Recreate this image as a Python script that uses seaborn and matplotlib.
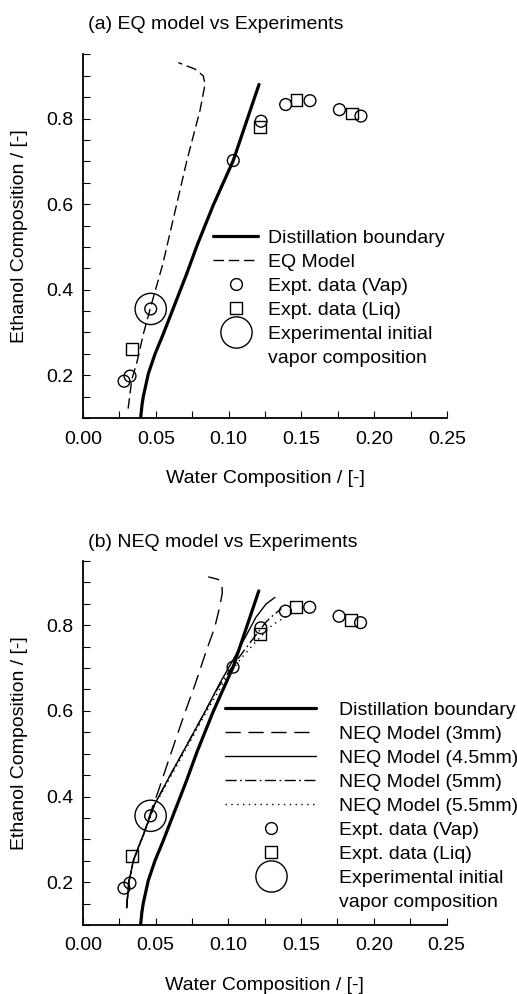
import numpy as np
import pandas as pd
import matplotlib
matplotlib.use("Agg")
import matplotlib.pyplot as plt
import seaborn as sns
from matplotlib.lines import Line2D
from matplotlib.ticker import MultipleLocator, FixedLocator

# ---------------- data ----------------
boundary_x = [0.0396, 0.0405, 0.0414, 0.0449, 0.0495, 0.0552, 0.0632, 0.0712, 0.0785, 0.0895, 0.1032, 0.1209]
boundary_y = [0.100, 0.130, 0.150, 0.204, 0.250, 0.297, 0.367, 0.437, 0.505, 0.598, 0.702, 0.880]

eq_x = [0.0310, 0.0335, 0.0370, 0.0415, 0.0465, 0.0548, 0.0630, 0.0712, 0.0804, 0.0838, 0.0826, 0.0769, 0.0700, 0.0655]
eq_y = [0.122, 0.190, 0.230, 0.297, 0.360, 0.460, 0.580, 0.700, 0.820, 0.880, 0.900, 0.916, 0.925, 0.931]

neq3_x = [0.0300, 0.0315, 0.0350, 0.0415, 0.0470, 0.0517, 0.0609, 0.0700, 0.0769, 0.0850, 0.0907, 0.0940, 0.0958, 0.0955, 0.0930, 0.0861]
neq3_y = [0.140, 0.200, 0.253, 0.310, 0.368, 0.412, 0.505, 0.595, 0.660, 0.742, 0.796, 0.843, 0.875, 0.895, 0.907, 0.913]

neq45_x = [0.0300, 0.0315, 0.0348, 0.0414, 0.0490, 0.0600, 0.0730, 0.0850, 0.0940, 0.1032, 0.1124, 0.1190, 0.1260, 0.1320]
neq45_y = [0.140, 0.200, 0.253, 0.310, 0.380, 0.450, 0.530, 0.605, 0.664, 0.719, 0.777, 0.819, 0.850, 0.865]

neq5_x = [0.0300, 0.0315, 0.0348, 0.0414, 0.0490, 0.0600, 0.0730, 0.0850, 0.0930, 0.1020, 0.1110, 0.1180, 0.1260, 0.1307, 0.1365]
neq5_y = [0.140, 0.200, 0.253, 0.310, 0.380, 0.450, 0.530, 0.605, 0.655, 0.700, 0.742, 0.773, 0.808, 0.823, 0.839]

neq55_x = [0.0300, 0.0316, 0.0350, 0.0416, 0.0492, 0.0605, 0.0735, 0.0860, 0.0970, 0.1080, 0.1190, 0.1300, 0.1370, 0.1433]
neq55_y = [0.140, 0.200, 0.253, 0.310, 0.378, 0.448, 0.527, 0.605, 0.668, 0.720, 0.762, 0.800, 0.815, 0.827]

vap_x = [0.0282, 0.0323, 0.0465, 0.1032, 0.1223, 0.1392, 0.1559, 0.1761, 0.1909]
vap_y = [0.186, 0.198, 0.355, 0.702, 0.794, 0.833, 0.842, 0.821, 0.806]

liq_x = [0.0339, 0.1216, 0.1467, 0.1845]
liq_y = [0.262, 0.780, 0.843, 0.812]

init_x = [0.0465]
init_y = [0.355]

x_ticks = [0.00, 0.05, 0.10, 0.15, 0.20, 0.25]
y_ticks = [0.2, 0.4, 0.6, 0.8]

# ---------------- style ----------------
sns.set_theme(style="ticks")
plt.rcParams["font.family"] = ["Liberation Sans", "DejaVu Sans"]
plt.rcParams["lines.scale_dashes"] = False
plt.rcParams["text.color"] = "black"
plt.rcParams["axes.labelcolor"] = "black"
plt.rcParams["xtick.color"] = "black"
plt.rcParams["ytick.color"] = "black"
FS = 14

W, H = 517, 994
fig = plt.figure(figsize=(W / 100, H / 100), dpi=100)
fig.patch.set_facecolor("white")


def ax_rect(left, top, right, bottom):
    return [left / W, 1 - bottom / H, (right - left) / W, (bottom - top) / H]


ax1 = fig.add_axes(ax_rect(83, 54.5, 447, 418))
ax2 = fig.add_axes(ax_rect(83, 561, 446.5, 925))

LW_THICK = 2.3
LW_THIN = 1.0
MS = 8.5
MS_BIG = 22.5
MEW = 1.0

DASH_EQ = (0, (7.5, 3.5))
DASH_3 = (0, (11, 5.5))
DASH_DOT = (0, (8, 2.5, 1.2, 2.5))
DOTTED = (0, (1.0, 3.2))


def curve(ax, x, y, lw, ls):
    df = pd.DataFrame({"x": x, "y": y})
    sns.lineplot(data=df, x="x", y="y", ax=ax, sort=False, estimator=None,
                 color="black", linewidth=lw, linestyle=ls)


def points(ax, x, y, marker, ms):
    df = pd.DataFrame({"x": x, "y": y})
    sns.scatterplot(data=df, x="x", y="y", ax=ax, marker=marker, s=ms ** 2,
                    facecolors="none", edgecolors="black", linewidth=MEW, zorder=5)
    coll = ax.collections[-1]
    coll.set_facecolor("none")
    coll.set_edgecolor("black")
    coll.set_linewidth(MEW)


def style_axes(ax):
    ax.set_xlim(0, 0.25)
    ax.set_ylim(0.1, 0.95)
    sns.despine(ax=ax)
    for s in ["left", "bottom"]:
        ax.spines[s].set_linewidth(1.3)
        ax.spines[s].set_color("black")
    ax.xaxis.set_major_locator(FixedLocator(x_ticks))
    ax.xaxis.set_minor_locator(MultipleLocator(0.025))
    ax.yaxis.set_major_locator(FixedLocator(y_ticks))
    ax.yaxis.set_minor_locator(MultipleLocator(0.05))
    ax.set_xticklabels([f"{v:.2f}" for v in x_ticks])
    ax.set_yticklabels([f"{v:.1f}" for v in y_ticks])
    ax.tick_params(axis="both", which="both", direction="in", length=5, width=0.8,
                   color="black", labelsize=FS, labelcolor="black")
    ax.tick_params(axis="x", which="major", pad=9)
    ax.tick_params(axis="y", which="major", pad=7)
    ax.set_xlabel("Water Composition / [-]", fontsize=FS, labelpad=16, color="black")
    ax.set_ylabel("Ethanol Composition / [-]", fontsize=FS, labelpad=13, color="black")
    ax.set_facecolor("white")
    ax.grid(False)


# ---------------- panel (a) ----------------
curve(ax1, boundary_x, boundary_y, LW_THICK, "-")
curve(ax1, eq_x, eq_y, LW_THIN, DASH_EQ)
points(ax1, vap_x, vap_y, "o", MS)
points(ax1, liq_x, liq_y, "s", MS)
points(ax1, init_x, init_y, "o", MS_BIG)
style_axes(ax1)

# ---------------- panel (b) ----------------
curve(ax2, boundary_x, boundary_y, LW_THICK, "-")
curve(ax2, neq3_x, neq3_y, LW_THIN, DASH_3)
curve(ax2, neq45_x, neq45_y, LW_THIN, "-")
curve(ax2, neq5_x, neq5_y, LW_THIN, DASH_DOT)
curve(ax2, neq55_x, neq55_y, LW_THIN, DOTTED)
points(ax2, vap_x, vap_y, "o", MS)
points(ax2, liq_x, liq_y, "s", MS)
points(ax2, init_x, init_y, "o", MS_BIG)
style_axes(ax2)

# titles
fig.text(88 / W, 1 - 29 / H, "(a) EQ model vs Experiments", fontsize=FS, va="baseline", ha="left", color="black")
fig.text(88 / W, 1 - 547 / H, "(b) NEQ model vs Experiments", fontsize=FS, va="baseline", ha="left", color="black")


# ---------------- legends ----------------
def line_h(lw, ls):
    return Line2D([], [], color="black", linewidth=lw, linestyle=ls)


def mark_h(marker, ms):
    return Line2D([], [], color="black", linestyle="none", marker=marker, markersize=ms,
                  markerfacecolor="none", markeredgecolor="black", markeredgewidth=MEW)


blank = Line2D([], [], linestyle="none", marker=None)

h1 = [line_h(LW_THICK, "-"), line_h(LW_THIN, DASH_EQ), mark_h("o", MS), mark_h("s", MS),
      mark_h("o", MS_BIG), blank]
l1 = ["Distillation boundary", "EQ Model", "Expt. data (Vap)", "Expt. data (Liq)",
      "Experimental initial", "vapor composition"]
leg1 = fig.legend(h1, l1, loc="upper left", bbox_to_anchor=(213 / W, 1 - 229 / H),
                  frameon=False, fontsize=FS, borderpad=0, borderaxespad=0,
                  handlelength=45 / 19.44, handletextpad=10 / 19.44, labelspacing=0.33)

h2 = [line_h(LW_THICK, "-"), line_h(LW_THIN, DASH_3), line_h(LW_THIN, "-"),
      line_h(LW_THIN, DASH_DOT), line_h(LW_THIN, DOTTED), mark_h("o", MS), mark_h("s", MS),
      mark_h("o", MS_BIG), blank]
l2 = ["Distillation boundary", "NEQ Model (3mm)", "NEQ Model (4.5mm)", "NEQ Model (5mm)",
      "NEQ Model (5.5mm)", "Expt. data (Vap)", "Expt. data (Liq)",
      "Experimental initial", "vapor composition"]
leg2 = fig.legend(h2, l2, loc="upper left", bbox_to_anchor=(225 / W, 1 - 701 / H),
                  frameon=False, fontsize=FS, borderpad=0, borderaxespad=0,
                  handlelength=91 / 19.44, handletextpad=23 / 19.44, labelspacing=0.33)
for lg in (leg1, leg2):
    for t in lg.get_texts():
        t.set_color("black")

fig.savefig("out.png", dpi=100, facecolor="white")
